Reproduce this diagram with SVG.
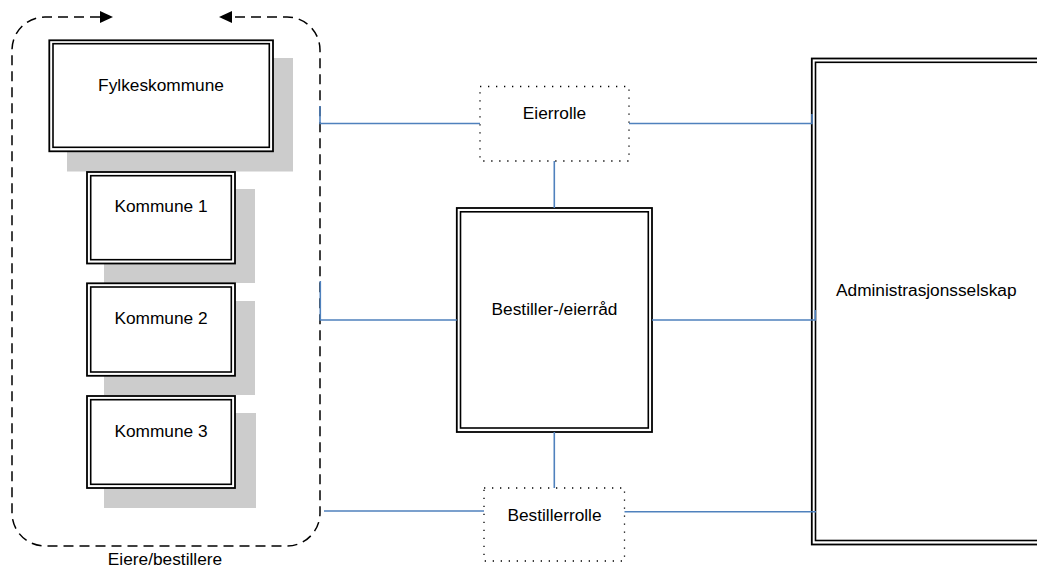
<svg xmlns="http://www.w3.org/2000/svg" width="1037" height="567" viewBox="0 0 1037 567">
<style>
text{font-family:"Liberation Sans",Arial,sans-serif;font-size:17.3px;fill:#000}
.c{text-anchor:middle}
.sh{fill:#cccccc}
.o{fill:#fff;stroke:#000;stroke-width:1.8}
.i{fill:none;stroke:#000;stroke-width:1.6}
.dot{fill:#fff;stroke:#000;stroke-width:1.3;stroke-dasharray:1.3 6.7}
.con{fill:none;stroke:#4f81bd;stroke-width:1.6}
.grp{fill:none;stroke:#000;stroke-width:1.5;stroke-dasharray:10 6}
</style>
<defs>
<marker id="ah" markerUnits="userSpaceOnUse" markerWidth="14" markerHeight="13" refX="0" refY="6" orient="auto-start-reverse" viewBox="0 0 14 12" overflow="visible">
<path d="M0,0 L13,6 L0,12 Z" fill="#000"/>
</marker>
</defs>
<rect width="1037" height="567" fill="#fff"/>

<g id="container">
<path class="grp" d="M100,17 L45,17 A33,33 0 0 0 12,50 L12,513 A33,33 0 0 0 45,546 L287,546 A33,33 0 0 0 320,513 L320,50 A33,33 0 0 0 287,17 L232,17" marker-start="url(#ah)" marker-end="url(#ah)"/>
<text class="c" x="165" y="565">Eiere/bestillere</text>
</g>

<g id="fylkeskommune">
<rect class="sh" x="67" y="58" width="226" height="113.5"/>
<rect class="o" x="49.3" y="40.3" width="223.7" height="111"/>
<rect class="i" x="53" y="43.7" width="216.3" height="103.6"/>
<text class="c" x="161" y="91">Fylkeskommune</text>
</g>

<g id="kommune1">
<rect class="sh" x="104" y="189" width="151" height="94"/>
<rect class="o" x="87" y="172" width="148" height="91.5"/>
<rect class="i" x="90.7" y="175.7" width="140.6" height="84"/>
<text class="c" x="161" y="212">Kommune 1</text>
</g>

<g id="kommune2">
<rect class="sh" x="104" y="301" width="151" height="94"/>
<rect class="o" x="87" y="283.3" width="148" height="92.5"/>
<rect class="i" x="90.7" y="287" width="140.6" height="85"/>
<text class="c" x="161" y="324">Kommune 2</text>
</g>

<g id="kommune3">
<rect class="sh" x="104" y="413" width="152" height="95"/>
<rect class="o" x="87" y="396" width="148" height="92"/>
<rect class="i" x="90.7" y="399.7" width="140.6" height="84.6"/>
<text class="c" x="161" y="437">Kommune 3</text>
</g>

<g id="eierrolle">
<rect class="dot" x="480" y="86.5" width="149" height="74.5"/>
<text class="c" x="554.5" y="119">Eierrolle</text>
</g>

<g id="bestillerraad">
<rect class="o" x="456.8" y="208" width="195.2" height="224"/>
<rect class="i" x="460.5" y="211.8" width="187.8" height="216.2"/>
<text class="c" x="554.5" y="315">Bestiller-/eierråd</text>
</g>

<g id="bestillerrolle">
<rect class="dot" x="484" y="488" width="140.5" height="73"/>
<text class="c" x="554.5" y="521">Bestillerrolle</text>
</g>

<g id="administrasjonsselskap">
<rect class="o" x="811.8" y="58.5" width="300" height="486"/>
<rect class="i" x="815.5" y="62.3" width="300" height="478.2"/>
<text x="836" y="296">Administrasjonsselskap</text>
</g>

<g id="connectors">
<path class="con" d="M320,106 L320,123.5 L480,123.5"/>
<path class="con" d="M629,123.5 L812,123.5 L812,114"/>
<path class="con" d="M554.3,161 L554.3,208"/>
<path class="con" d="M320.3,281 L320.3,320 L456.8,320"/>
<path class="con" d="M652,320 L815.3,320 L815.3,310"/>
<path class="con" d="M554.3,432 L554.3,488"/>
<path class="con" d="M324,511 L484,511"/>
<path class="con" d="M624.5,511.7 L816,511.7"/>
</g>
</svg>
